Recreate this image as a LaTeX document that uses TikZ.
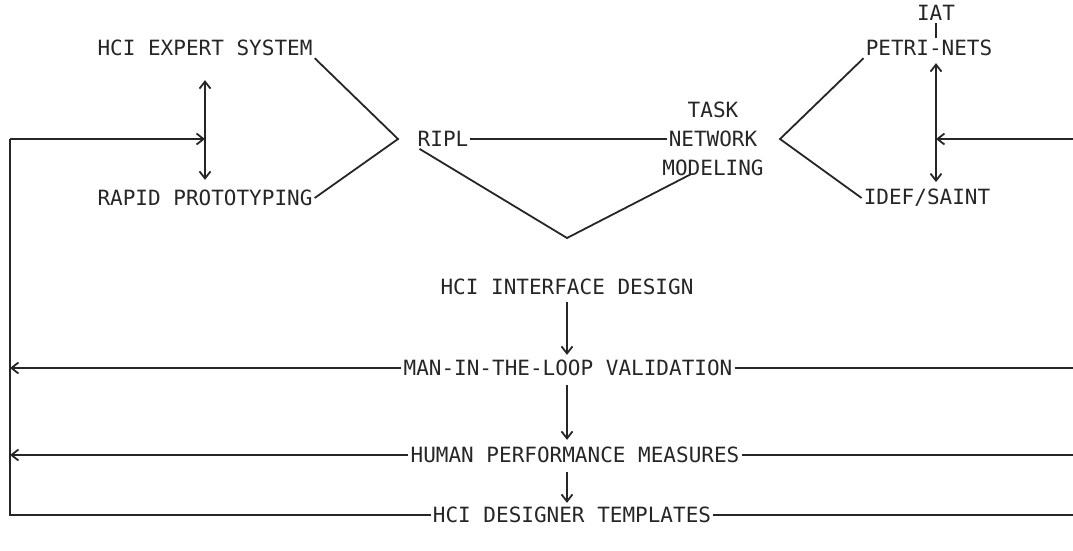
\documentclass[tikz,border=0pt]{standalone}
\usepackage{fontspec}
\setmonofont{DejaVu Sans Mono}
\usetikzlibrary{arrows.meta,calc}
\definecolor{ink}{HTML}{262626}
\begin{document}
\begin{tikzpicture}[x=1pt,y=-1pt,
  lbl/.style={font=\ttfamily\fontsize{21}{24}\selectfont, text=ink, inner sep=2pt},
  ln/.style={draw=ink, line width=1.8pt},
  tip/.tip={Straight Barb[length=7pt,width=11pt]},
  arr/.style={ln,-tip},
  dbl/.style={ln,tip-tip}]
\useasboundingbox (0,0) rectangle (1073,550);

% labels
\node[lbl] (hes)   at (205,48)  {HCI EXPERT SYSTEM};
\node[lbl] (rp)    at (205,198) {RAPID PROTOTYPING};
\node[lbl] (ripl)  at (443,139) {RIPL};
\node[lbl] (task)  at (713,110) {TASK};
\node[lbl] (net)   at (713,139) {NETWORK};
\node[lbl] (mod)   at (713,168) {MODELING};
\node[lbl] (iat)   at (936,13)  {IAT};
\node[lbl] (petri) at (929,48)  {PETRI-NETS};
\node[lbl] (idef)  at (927,198) {IDEF/SAINT};
\node[lbl] (hid)   at (567,287) {HCI INTERFACE DESIGN};
\node[lbl] (mitl)  at (568,368) {MAN-IN-THE-LOOP VALIDATION};
\node[lbl] (hpm)   at (575,455) {HUMAN PERFORMANCE MEASURES};
\node[lbl] (hdt)   at (572,515) {HCI DESIGNER TEMPLATES};

% helper points
\coordinate (fb)   at (10,139);
\coordinate (edge) at (1073,139);
\coordinate (lv)   at (398,139);
\coordinate (rv)   at (780,139);
\coordinate (vb)   at (567,238);

% left group
\draw[dbl] ($(hes.south)+(0,22)$) -- ($(hes.south |- rp.north)+(0,-8)$);
\draw[ln] (hes.south east) -- (lv) -- (rp.east);
\draw[arr] (fb) -- (fb -| hes.south);

% centre
\draw[ln] (ripl.east) -- (net.west);
\draw[ln] ($(ripl.south west)+(4,0)$) -- (vb) -- ($(mod.south)+(-22,-4)$);

% right group
\draw[ln] (iat.south) -- (iat.south |- petri.north);
\draw[ln] (petri.south west) -- (rv) -- (idef.west);
\draw[dbl] ($(iat.south |- petri.south)+(0,5)$) -- ($(iat.south |- idef.north)+(0,-5)$);
\draw[arr] (edge) -- (edge -| iat.south);

% downward chain
\draw[arr] ($(hid.south)+(0,5)$) -- ($(hid.south |- mitl.north)+(0,-3)$);
\draw[arr] ($(hid.south |- mitl.south)+(0,7)$) -- ($(hid.south |- hpm.north)+(0,-5)$);
\draw[arr] ($(hid.south |- hpm.south)+(0,7)$) -- ($(hid.south |- hdt.north)+(0,-2)$);

% feedback lines
\draw[arr] (mitl.west) -- (mitl.west -| fb);
\draw[arr] (hpm.west) -- (hpm.west -| fb);
\draw[ln] (fb) -- (fb |- hdt.west) -- (hdt.west);
\draw[ln] (mitl.east) -- (mitl.east -| edge);
\draw[ln] (hpm.east) -- (hpm.east -| edge);
\draw[ln] (hdt.east) -- (hdt.east -| edge);
\end{tikzpicture}
\end{document}
